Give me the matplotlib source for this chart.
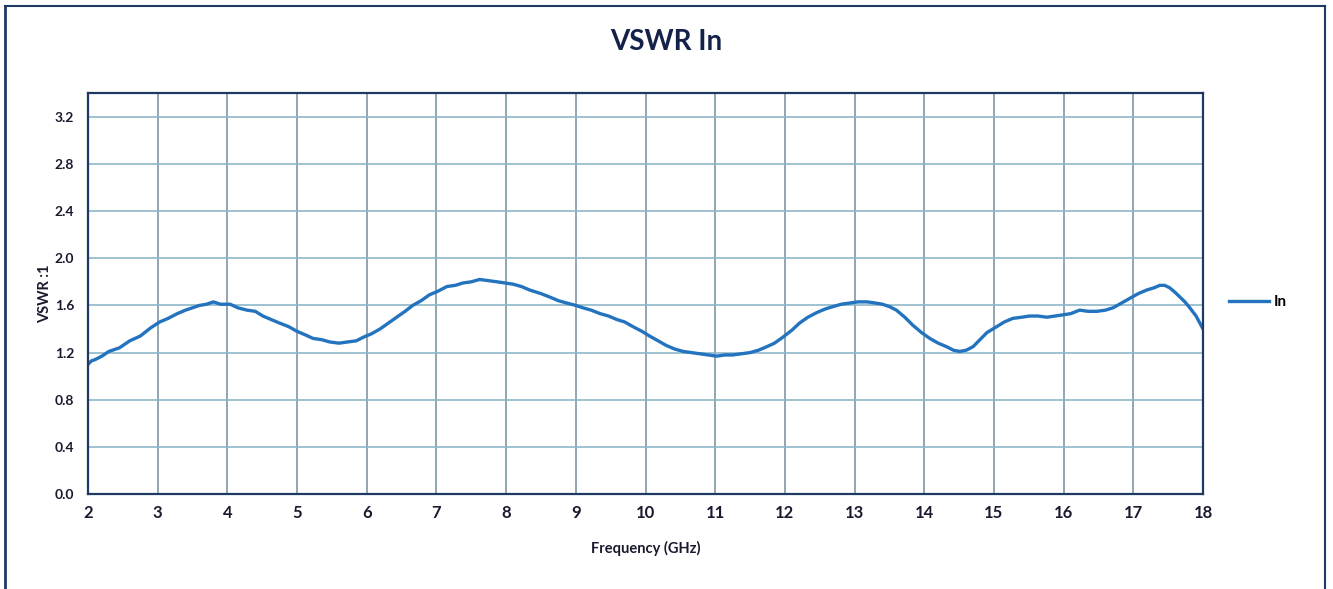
import matplotlib.pyplot as plt
from matplotlib.lines import Line2D

# VSWR of the input port

freq = [2.0, 2.05, 2.1, 2.2, 2.3, 2.45, 2.6, 2.75, 2.9, 3.03, 3.15, 3.28, 3.4, 3.5, 3.6, 3.7,
        3.8, 3.9, 4.04, 4.15, 4.28, 4.4, 4.51, 4.63, 4.75, 4.88, 5.0, 5.12, 5.23, 5.35, 5.47,
        5.6, 5.72, 5.85, 5.95, 6.07, 6.19, 6.31, 6.43, 6.55, 6.66, 6.78, 6.9, 7.02, 7.15,
        7.27, 7.38, 7.5, 7.62, 7.75, 7.87, 7.98, 8.1, 8.22, 8.34, 8.5, 8.63, 8.75, 8.87,
        9.0, 9.1, 9.22, 9.35, 9.47, 9.59, 9.7, 9.82, 9.95, 10.06, 10.18, 10.3, 10.42, 10.54,
        10.66, 10.78, 10.9, 11.02, 11.14, 11.25, 11.38, 11.5, 11.62, 11.74, 11.85, 11.97,
        12.1, 12.21, 12.33, 12.46, 12.58, 12.69, 12.81, 12.93, 13.05, 13.18, 13.3, 13.4,
        13.5, 13.6, 13.72, 13.84, 13.96, 14.08, 14.2, 14.32, 14.42, 14.51, 14.6, 14.7,
        14.8, 14.9, 15.04, 15.15, 15.27, 15.4, 15.51, 15.63, 15.76, 15.88, 15.99, 16.1,
        16.23, 16.35, 16.48, 16.6, 16.71, 16.83, 16.95, 17.07, 17.19, 17.3, 17.38, 17.45,
        17.52, 17.6, 17.67, 17.74, 17.81, 17.9, 18.0]
vswr = [1.10, 1.13, 1.14, 1.17, 1.21, 1.24, 1.30, 1.34, 1.41, 1.46, 1.49, 1.53, 1.56, 1.58,
        1.60, 1.61, 1.63, 1.61, 1.61, 1.58, 1.56, 1.55, 1.51, 1.48, 1.45, 1.42, 1.38, 1.35,
        1.32, 1.31, 1.29, 1.28, 1.29, 1.30, 1.33, 1.36, 1.40, 1.45, 1.50, 1.55, 1.60, 1.64,
        1.69, 1.72, 1.76, 1.77, 1.79, 1.80, 1.82, 1.81, 1.80, 1.79, 1.78, 1.76, 1.73, 1.70,
        1.67, 1.64, 1.62, 1.60, 1.58, 1.56, 1.53, 1.51, 1.48, 1.46, 1.42, 1.38, 1.34, 1.30,
        1.26, 1.23, 1.21, 1.20, 1.19, 1.18, 1.17, 1.18, 1.18, 1.19, 1.20, 1.22, 1.25, 1.28,
        1.33, 1.39, 1.45, 1.50, 1.54, 1.57, 1.59, 1.61, 1.62, 1.63, 1.63, 1.62, 1.61, 1.59,
        1.56, 1.50, 1.43, 1.37, 1.32, 1.28, 1.25, 1.22, 1.21, 1.22, 1.25, 1.31, 1.37, 1.42,
        1.46, 1.49, 1.50, 1.51, 1.51, 1.50, 1.51, 1.52, 1.53, 1.56, 1.55, 1.55, 1.56, 1.58,
        1.62, 1.66, 1.70, 1.73, 1.75, 1.77, 1.77, 1.75, 1.71, 1.67, 1.63, 1.58, 1.51, 1.40]

x_ticks = list(range(2, 19))
y_ticks = [0.0, 0.4, 0.8, 1.2, 1.6, 2.0, 2.4, 2.8, 3.2]

navy = '#1F3864'
text_col = '#1A1A2E'
line_col = '#2373BE'

plt.rcParams['font.family'] = ['Lato', 'DejaVu Sans']

fig = plt.figure(figsize=(13.33, 5.89), dpi=100)
ax = fig.add_axes([0.066, 0.161, 0.8365, 0.681])

ax.plot(freq, vswr, color=line_col, linewidth=2.4, label='In')

ax.set_xlim(2, 18)
ax.set_ylim(0, 3.4)
ax.set_xticks(x_ticks)
ax.set_yticks(y_ticks)
ax.set_yticklabels([f'{v:.1f}' for v in y_ticks])

ax.yaxis.grid(True, color='#8DB6C8', linewidth=1.2)
ax.xaxis.grid(True, color='#7F97A3', linewidth=1.2)
ax.set_axisbelow(True)

for s in ax.spines.values():
    s.set_color(navy)
    s.set_linewidth(1.6)

ax.tick_params(axis='both', length=0, colors=text_col)
ax.tick_params(axis='y', labelsize=10, pad=10)
ax.tick_params(axis='x', labelsize=12, pad=8)
for lbl in ax.get_xticklabels() + ax.get_yticklabels():
    lbl.set_fontweight('bold')

ax.set_xlabel('Frequency (GHz)', fontsize=10.5, fontweight='bold', color=text_col, labelpad=14)
ax.set_ylabel('VSWR :1', fontsize=10.5, fontweight='bold', color=text_col, labelpad=2)
fig.text(0.5, 0.928, 'VSWR In', ha='center', va='center', fontsize=20, fontweight='bold', color='#14224A')

handle = Line2D([], [], color=line_col, linewidth=2.4)
fig.legend([handle], ['In'], loc='center left', bbox_to_anchor=(0.912, 0.487), frameon=False,
           handlelength=2.6, handletextpad=0.3, prop={'size': 11, 'weight': 'bold'})

# outer chart border
fig.add_artist(Line2D([0.004, 0.004], [0.0, 0.99], transform=fig.transFigure, color=navy, linewidth=2))
fig.add_artist(Line2D([0.004, 0.994], [0.99, 0.99], transform=fig.transFigure, color=navy, linewidth=1.5))
fig.add_artist(Line2D([0.994, 0.994], [0.0, 0.99], transform=fig.transFigure, color=navy, linewidth=1.5))

fig.savefig('out.png', dpi=100)
